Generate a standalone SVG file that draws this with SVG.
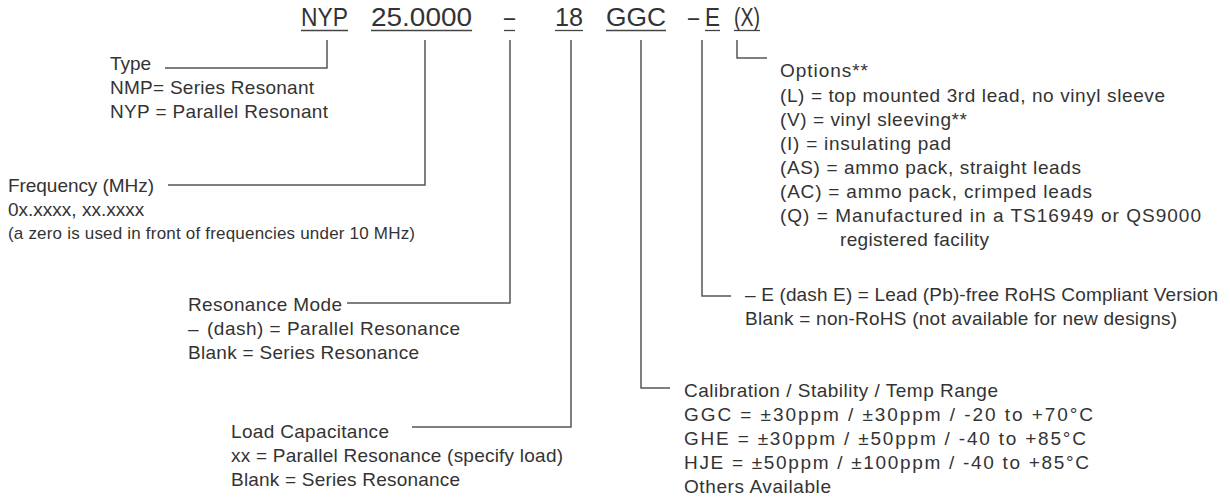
<svg xmlns="http://www.w3.org/2000/svg" width="1230" height="498" viewBox="0 0 1230 498">
<style>
text{font-family:"Liberation Sans",Arial,sans-serif;fill:#333;}
.h{font-size:26px;}
.t{font-size:19px;}
.s{font-size:17px;}
.ln{stroke:#555;stroke-width:1.5;fill:none;}
.ul{stroke:#444;stroke-width:1.3;}
</style>
<rect width="1230" height="498" fill="#fff"/>
<g id="header">
<text class="h" x="301" y="26" textLength="47" lengthAdjust="spacingAndGlyphs">NYP</text>
<text class="h" x="371" y="26" textLength="101" lengthAdjust="spacingAndGlyphs">25.0000</text>
<text class="h" x="504" y="26" textLength="11" lengthAdjust="spacingAndGlyphs">–</text>
<text class="h" x="555" y="26" textLength="28" lengthAdjust="spacingAndGlyphs">18</text>
<text class="h" x="606" y="26" textLength="60" lengthAdjust="spacingAndGlyphs">GGC</text>
<text class="h" x="688" y="26" textLength="11" lengthAdjust="spacingAndGlyphs">–</text>
<text class="h" x="705" y="26" textLength="15" lengthAdjust="spacingAndGlyphs">E</text>
<text class="h" x="734" y="26" textLength="26" lengthAdjust="spacingAndGlyphs">(X)</text>
<line class="ul" x1="301" y1="30.5" x2="348" y2="30.5"/>
<line class="ul" x1="371" y1="30.5" x2="472" y2="30.5"/>
<line class="ul" x1="504" y1="30.5" x2="515" y2="30.5"/>
<line class="ul" x1="555" y1="30.5" x2="583" y2="30.5"/>
<line class="ul" x1="606" y1="30.5" x2="666" y2="30.5"/>
<line class="ul" x1="705" y1="30.5" x2="720" y2="30.5"/>
<line class="ul" x1="734" y1="30.5" x2="760" y2="30.5"/>
</g>
<g id="connectors">
<polyline class="ln" points="327,40 327,68 165,68"/>
<polyline class="ln" points="425,40 425,185 168,185"/>
<polyline class="ln" points="510,40 510,303 347,303"/>
<polyline class="ln" points="571,40 571,427 412,427"/>
<polyline class="ln" points="641,40 641,388 670,388"/>
<polyline class="ln" points="702,40 702,296 731,296"/>
<polyline class="ln" points="737,40 737,58 767,58"/>
</g>
<g id="type">
<text class="t" x="110" y="70">Type</text>
<text class="t" x="110" y="94" textLength="204">NMP= Series Resonant</text>
<text class="t" x="110" y="118" textLength="218">NYP = Parallel Resonant</text>
</g>
<g id="frequency">
<text class="t" x="8" y="192" textLength="146">Frequency (MHz)</text>
<text class="t" x="8" y="216">0x.xxxx, xx.xxxx</text>
<text class="s" x="8" y="239" textLength="407">(a zero is used in front of frequencies under 10 MHz)</text>
</g>
<g id="resonance">
<text class="t" x="188" y="311" textLength="154">Resonance Mode</text>
<text class="t" x="188" y="335" textLength="272">–<tspan dx="8">(dash) = Parallel Resonance</tspan></text>
<text class="t" x="188" y="359" textLength="231">Blank = Series Resonance</text>
</g>
<g id="load">
<text class="t" x="231" y="438" textLength="158">Load Capacitance</text>
<text class="t" x="231" y="462" textLength="332">xx = Parallel Resonance (specify load)</text>
<text class="t" x="231" y="486" textLength="229">Blank = Series Resonance</text>
</g>
<g id="calibration">
<text class="t" x="684" y="397" textLength="314">Calibration / Stability / Temp Range</text>
<text class="t" x="684" y="421" textLength="409">GGC = ±30ppm / ±30ppm / -20 to +70°C</text>
<text class="t" x="684" y="445" textLength="402">GHE = ±30ppm / ±50ppm / -40 to +85°C</text>
<text class="t" x="684" y="469" textLength="405">HJE = ±50ppm / ±100ppm / -40 to +85°C</text>
<text class="t" x="684" y="493" textLength="147">Others Available</text>
</g>
<g id="rohs">
<text class="t" x="745" y="301" textLength="473">– E (dash E) = Lead (Pb)-free RoHS Compliant Version</text>
<text class="t" x="745" y="325" textLength="432">Blank = non-RoHS (not available for new designs)</text>
</g>
<g id="options">
<text class="t" x="780" y="77" textLength="88">Options**</text>
<text class="t" x="780" y="102" textLength="385">(L) = top mounted 3rd lead, no vinyl sleeve</text>
<text class="t" x="780" y="126" textLength="187">(V) = vinyl sleeving**</text>
<text class="t" x="780" y="150" textLength="171">(I) = insulating pad</text>
<text class="t" x="780" y="174" textLength="301">(AS) = ammo pack, straight leads</text>
<text class="t" x="780" y="198" textLength="312">(AC) = ammo pack, crimped leads</text>
<text class="t" x="780" y="222" textLength="421">(Q) = Manufactured in a TS16949 or QS9000</text>
<text class="t" x="840" y="246" textLength="149">registered facility</text>
</g>
</svg>
